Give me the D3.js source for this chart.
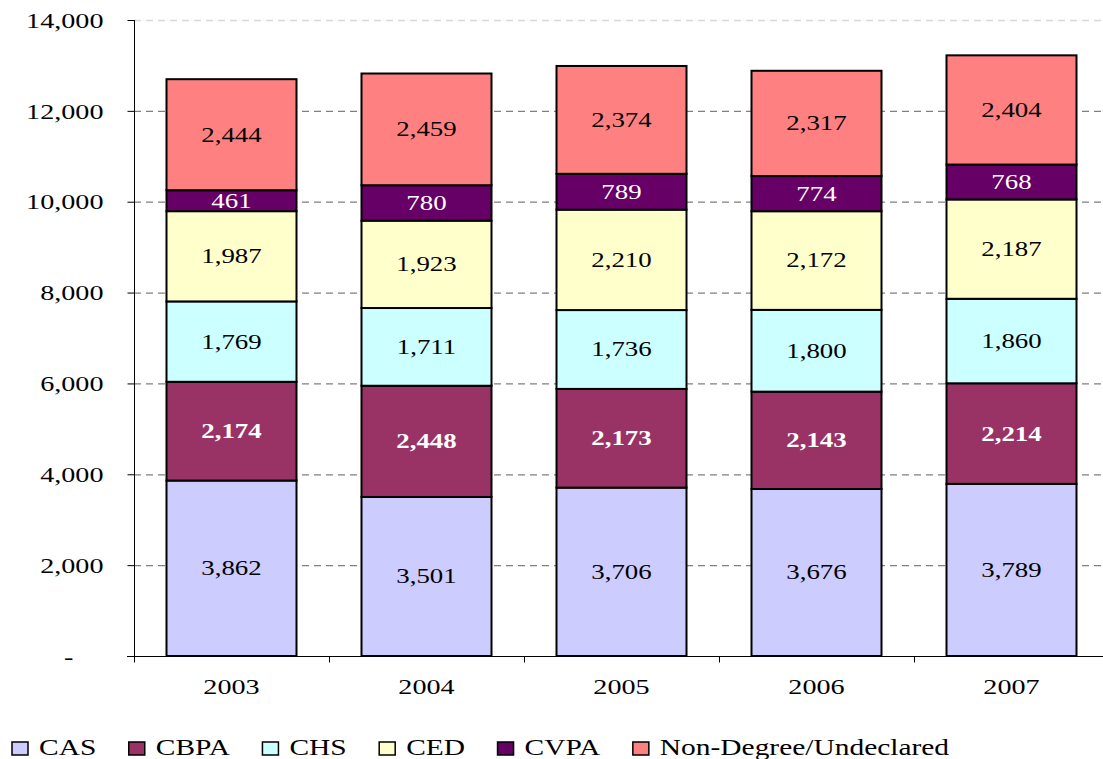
<!DOCTYPE html>
<html>
<head>
<meta charset="utf-8">
<script src="https://cdn.jsdelivr.net/npm/d3@7"></script>
<style>
  body { margin: 0; background: #fff; }
  text { font-family: "Liberation Serif", "Times New Roman", serif; }
</style>
</head>
<body>
<svg id="chart" width="1103" height="759"></svg>
<script>
// chart data
var years = ["2003", "2004", "2005", "2006", "2007"];
var colleges = ["CAS", "CBPA", "CHS", "CED", "CVPA", "Non-Degree/Undeclared"];
var cas = [3862, 3501, 3706, 3676, 3789];
var cbpa = [2174, 2448, 2173, 2143, 2214];
var chs = [1769, 1711, 1736, 1800, 1860];
var ced = [1987, 1923, 2210, 2172, 2187];
var cvpa = [461, 780, 789, 774, 768];
var nonDegree = [2444, 2459, 2374, 2317, 2404];
var yTicks = [0, 2000, 4000, 6000, 8000, 10000, 12000, 14000];

var fills = ["#ccccff", "#993366", "#ccffff", "#ffffcc", "#660066", "#ff8080"];
var labelColor = ["#000", "#fff", "#000", "#000", "#fff", "#000"];
var labelWeight = ["normal", "bold", "normal", "normal", "normal", "normal"];
var stretch = 1.28;   // the original picture is stretched sideways
var fmt = d3.format(",");

var table = years.map(function(y, i) {
  return {year: y, CAS: cas[i], CBPA: cbpa[i], CHS: chs[i], CED: ced[i],
          CVPA: cvpa[i], "Non-Degree/Undeclared": nonDegree[i]};
});
var series = d3.stack().keys(colleges)(table);

var svg = d3.select("#chart");
var x = d3.scaleBand().domain(years).range([134, 1109])
  .paddingInner(1 / 3).paddingOuter(1 / 6);
var y = d3.scaleLinear().domain([0, 14000]).range([656, 20]);

// dashed grid
svg.append("g").selectAll("line")
  .data(yTicks.filter(function(d) { return d > 0; }))
  .enter().append("line")
  .attr("x1", 134).attr("x2", 1103)
  .attr("y1", function(d) { return y(d) + 0.5; })
  .attr("y2", function(d) { return y(d) + 0.5; })
  .attr("stroke", function(d) { return d == 14000 ? "#d8d8d8" : "#808080"; })
  .attr("stroke-width", 1.3)
  .attr("stroke-dasharray", "7,5");

// y axis
var yAxis = svg.append("g")
  .attr("transform", "translate(134.5,0)")
  .call(d3.axisLeft(y).tickValues(yTicks).tickSize(7).tickFormat(function(d) {
    return d == 0 ? "-" : fmt(d);
  }));
yAxis.select(".domain").attr("d", "M0,20V661").attr("stroke", "#000");
yAxis.selectAll(".tick line").attr("stroke", "#000");
yAxis.selectAll(".tick text")
  .attr("x", 0).attr("dy", "0.33em")
  .attr("fill", "#000")
  .style("font-size", "22px")
  .attr("transform", function(d) {
    return "translate(" + (d == 0 ? -61 : -31) + ",0) scale(" + stretch + ",1)";
  });

// stacked bars
var layer = svg.append("g").selectAll("g")
  .data(series).enter().append("g")
  .attr("fill", function(d, i) { return fills[i]; });

layer.selectAll("rect")
  .data(function(d) { return d; })
  .enter().append("rect")
  .attr("x", function(d) { return x(d.data.year); })
  .attr("width", x.bandwidth())
  .attr("y", function(d) { return y(d[1]); })
  .attr("height", function(d) { return y(d[0]) - y(d[1]); })
  .attr("stroke", "#000")
  .attr("stroke-width", 2);

layer.each(function(s, k) {
  d3.select(this).selectAll("text")
    .data(s).enter().append("text")
    .attr("text-anchor", "middle")
    .attr("dy", "0.33em")
    .attr("fill", labelColor[k])
    .style("font-weight", labelWeight[k])
    .style("font-size", "21px")
    .attr("transform", function(d) {
      var cx = x(d.data.year) + x.bandwidth() / 2;
      var cy = (y(d[0]) + y(d[1])) / 2;
      return "translate(" + cx + "," + cy + ") scale(" + stretch + ",1)";
    })
    .text(function(d) { return fmt(d[1] - d[0]); });
});

// x axis
var xAxis = svg.append("g")
  .attr("transform", "translate(0,656.5)")
  .call(d3.axisBottom(x).tickSize(0).tickSizeOuter(0));
xAxis.select(".domain").attr("d", "M127,0H1103").attr("stroke", "#000");
xAxis.selectAll(".tick text")
  .attr("y", 0).attr("dy", 0)
  .attr("fill", "#000")
  .style("font-size", "22px")
  .attr("transform", "translate(0,37) scale(" + stretch + ",1)");
xAxis.selectAll("line.sep")
  .data(years).enter().append("line")
  .attr("class", "sep")
  .attr("x1", function(d) { return Math.round(x(d) - x.step() * x.paddingOuter()) + 0.5; })
  .attr("x2", function(d) { return Math.round(x(d) - x.step() * x.paddingOuter()) + 0.5; })
  .attr("y1", 0).attr("y2", 6)
  .attr("stroke", "#000");

// legend
var legend = svg.append("g");
var lx = 12;
colleges.forEach(function(c, i) {
  legend.append("rect")
    .attr("x", lx).attr("y", 742)
    .attr("width", 16).attr("height", 13)
    .attr("fill", fills[i])
    .attr("stroke", "#000").attr("stroke-width", 1.5);
  var t = legend.append("text")
    .style("font-size", "23px")
    .attr("fill", "#000")
    .attr("transform", "translate(" + (lx + 27) + ",755) scale(" + stretch + ",1)")
    .text(c);
  lx = lx + 27 + t.node().getComputedTextLength() * stretch + 32.5;
});
</script>
</body>
</html>
